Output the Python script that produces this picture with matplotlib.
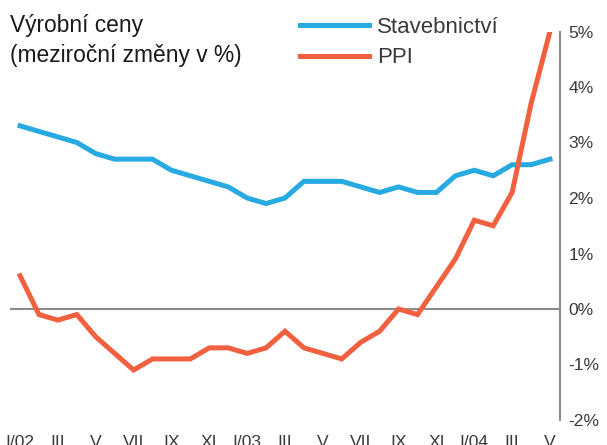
import numpy as np
import matplotlib
matplotlib.use("Agg")
import matplotlib.pyplot as plt

plt.rcParams['font.family'] = ['Liberation Sans', 'DejaVu Sans']

# měsíce I/2002 .. V/2004
months = np.arange(29)
tick_pos = months[::2]
tick_labels = ['I/02', 'III', 'V', 'VII', 'IX', 'XI',
               'I/03', 'III', 'V', 'VII', 'IX', 'XI',
               'I/04', 'III', 'V']

stavebnictvi = [3.3, 3.2, 3.1, 3.0, 2.8, 2.7, 2.7, 2.7, 2.5, 2.4, 2.3, 2.2,
                2.0, 1.9, 2.0, 2.3, 2.3, 2.3, 2.2, 2.1, 2.2, 2.1, 2.1, 2.4,
                2.5, 2.4, 2.6, 2.6, 2.7]
ppi = [0.6, -0.1, -0.2, -0.1, -0.5, -0.8, -1.1, -0.9, -0.9, -0.9, -0.7, -0.7,
       -0.8, -0.7, -0.4, -0.7, -0.8, -0.9, -0.6, -0.4, 0.0, -0.1, 0.4, 0.9,
       1.6, 1.5, 2.1, 3.7, 5.0]

y_ticks = [-2, -1, 0, 1, 2, 3, 4, 5]

blue = '#27A9E1'
red = '#F1603F'
grey = '#8C8C8C'
txt = '#3a3a3a'

W, H = 607, 445
fig = plt.figure(figsize=(W / 100, H / 100), dpi=100)
ax = fig.add_axes([10 / W, (H - 420) / H, 550 / W, 388.5 / H])

ax.axhline(0, color=grey, lw=1.5, zorder=1)
ax.plot(months, stavebnictvi, color=blue, lw=3.6, label='Stavebnictví',
        solid_joinstyle='miter', zorder=3)
ax.plot(months, ppi, color=red, lw=3.6, label='PPI',
        solid_joinstyle='miter', zorder=3)

ax.set_xlim(-0.53, 28.53)
ax.set_ylim(-2, 5)

for s in ['top', 'left', 'bottom']:
    ax.spines[s].set_visible(False)
ax.spines['right'].set_color(grey)
ax.spines['right'].set_linewidth(1.5)

ax.yaxis.tick_right()
ax.set_yticks(y_ticks)
ax.set_yticklabels([f'{v}%' for v in y_ticks])
ax.set_xticks(tick_pos)
ax.set_xticklabels(tick_labels)
ax.tick_params(axis='y', length=0, pad=6, labelsize=12.6, labelcolor=txt)
ax.tick_params(axis='x', length=0, pad=11, labelsize=12.6, labelcolor=txt)

fig.text(10 / W, 1 - 31.7 / H, 'Výrobní ceny', fontsize=16.4,
         color='#1a1a1a', va='baseline', ha='left')
fig.text(10 / W, 1 - 61.7 / H, '(meziroční změny v %)', fontsize=16.4,
         color='#1a1a1a', va='baseline', ha='left')

ax.legend(loc='upper left', bbox_to_anchor=(300 / W, 1 - 17 / H),
          bbox_transform=fig.transFigure, frameon=False, fontsize=16,
          handlelength=3.1, handletextpad=0.36, labelspacing=0.42,
          borderpad=0, borderaxespad=0, labelcolor=txt)

fig.savefig('out.png', dpi=100)
